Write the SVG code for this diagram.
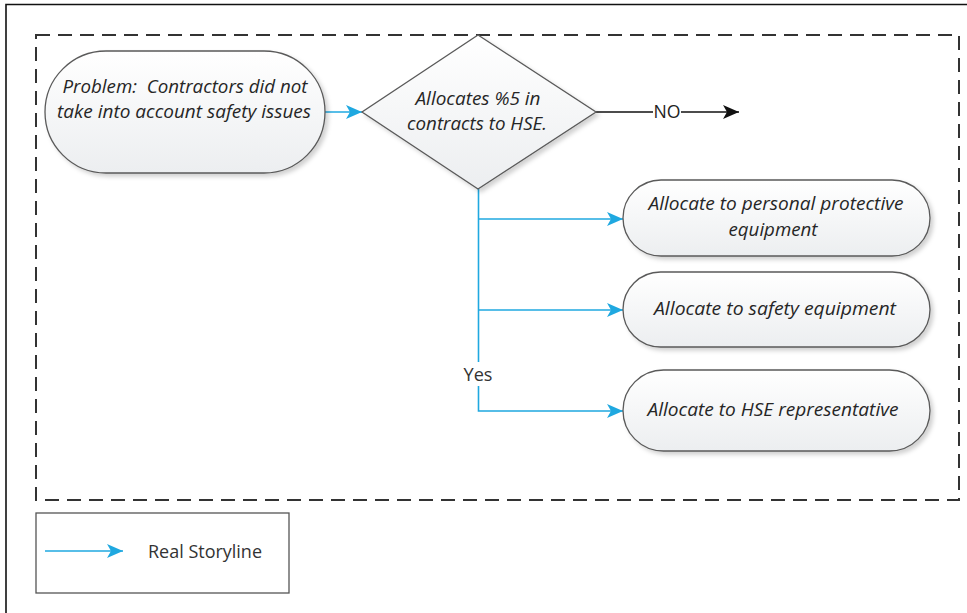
<svg xmlns="http://www.w3.org/2000/svg" width="967" height="613" viewBox="0 0 967 613">
  <style>
    .node { fill: url(#shapeFill); stroke: #5a5a5a; stroke-width: 1.3; filter: url(#softShadow); }
    .label { font-family: "Open Sans", "Liberation Sans", sans-serif; font-style: italic; font-size: 18px; fill: #262626; text-anchor: middle; }
    .plain { font-family: "Open Sans", "Liberation Sans", sans-serif; font-size: 17.5px; fill: #333333; }
    .flow { fill: none; stroke: #1fa8e0; stroke-width: 1.6; }
    .no { fill: none; stroke: #111111; stroke-width: 1.5; }
  </style>
  <defs>
    <linearGradient id="shapeFill" x1="0" y1="0" x2="0" y2="1">
      <stop offset="0" stop-color="#ffffff"/>
      <stop offset="1" stop-color="#eceef0"/>
    </linearGradient>
    <filter id="softShadow" x="-10%" y="-10%" width="125%" height="135%">
      <feDropShadow dx="3" dy="3" stdDeviation="2" flood-color="#000000" flood-opacity="0.18"/>
    </filter>
    <marker id="blueHead" viewBox="0 0 16 14" refX="16" refY="7" markerWidth="16" markerHeight="14" markerUnits="userSpaceOnUse" orient="auto">
      <path d="M0,0 L16,7 L0,14 L4,7 Z" fill="#1fa8e0"/>
    </marker>
    <marker id="blackHead" viewBox="0 0 16 14" refX="16" refY="7" markerWidth="16" markerHeight="14" markerUnits="userSpaceOnUse" orient="auto">
      <path d="M0,0 L16,7 L0,14 L4,7 Z" fill="#111111"/>
    </marker>
  </defs>

  <rect width="967" height="613" fill="#ffffff"/>

  <!-- page frame -->
  <path d="M6,613 L6,4.5 L967,4.5" fill="none" stroke="#111111" stroke-width="1.6"/>

  <!-- process boundary -->
  <rect x="36" y="35" width="923" height="465" fill="none" stroke="#333333" stroke-width="2" stroke-dasharray="14 8"/>

  <!-- connectors -->
  <g id="connectors">
    <path class="flow" d="M325,112 L362,112" marker-end="url(#blueHead)"/>
    <path class="no" d="M596,112 L653,112"/>
    <path class="no" d="M681,112 L739,112" marker-end="url(#blackHead)"/>
    <text class="plain" x="667" y="118" text-anchor="middle" textLength="27" lengthAdjust="spacingAndGlyphs" style="fill:#222222">NO</text>
    <path class="flow" d="M478.5,189 L478.5,362"/>
    <path class="flow" d="M478.5,386 L478.5,411 L623,411" marker-end="url(#blueHead)"/>
    <path class="flow" d="M478.5,219 L623,219" marker-end="url(#blueHead)"/>
    <path class="flow" d="M478.5,310 L623,310" marker-end="url(#blueHead)"/>
    <text class="plain" x="478" y="381" text-anchor="middle" textLength="29" lengthAdjust="spacingAndGlyphs">Yes</text>
  </g>

  <g id="problem">
    <rect class="node" x="45" y="51" width="280" height="122" rx="61" ry="61"/>
    <text class="label" x="185" y="93" xml:space="preserve" textLength="245" lengthAdjust="spacingAndGlyphs">Problem:  Contractors did not</text>
    <text class="label" x="184" y="118" textLength="254" lengthAdjust="spacingAndGlyphs">take into account safety issues</text>
  </g>

  <g id="decision">
    <path class="node" d="M478,35 L596,112 L478,189 L362,112 Z"/>
    <text class="label" x="478" y="105" textLength="125" lengthAdjust="spacingAndGlyphs">Allocates %5 in</text>
    <text class="label" x="477" y="130" textLength="140" lengthAdjust="spacingAndGlyphs">contracts to HSE.</text>
  </g>

  <g id="ppe">
    <rect class="node" x="623" y="180" width="307" height="76" rx="38" ry="38"/>
    <text class="label" x="776" y="210" textLength="255" lengthAdjust="spacingAndGlyphs">Allocate to personal protective</text>
    <text class="label" x="773" y="236" textLength="89" lengthAdjust="spacingAndGlyphs">equipment</text>
  </g>

  <g id="safety-equipment">
    <rect class="node" x="623" y="272" width="307" height="75" rx="37.5" ry="37.5"/>
    <text class="label" x="775" y="315" textLength="242" lengthAdjust="spacingAndGlyphs">Allocate to safety equipment</text>
  </g>

  <g id="hse-rep">
    <rect class="node" x="623" y="370" width="307" height="81" rx="40.5" ry="40.5"/>
    <text class="label" x="773" y="416" textLength="251" lengthAdjust="spacingAndGlyphs">Allocate to HSE representative</text>
  </g>

  <!-- legend -->
  <g id="legend">
    <rect x="36" y="513" width="253" height="80" fill="#ffffff" stroke="#555555" stroke-width="1.3"/>
    <path class="flow" d="M45,551 L123,551" marker-end="url(#blueHead)"/>
    <text class="plain" x="148" y="558" textLength="114" lengthAdjust="spacingAndGlyphs">Real Storyline</text>
  </g>
</svg>
